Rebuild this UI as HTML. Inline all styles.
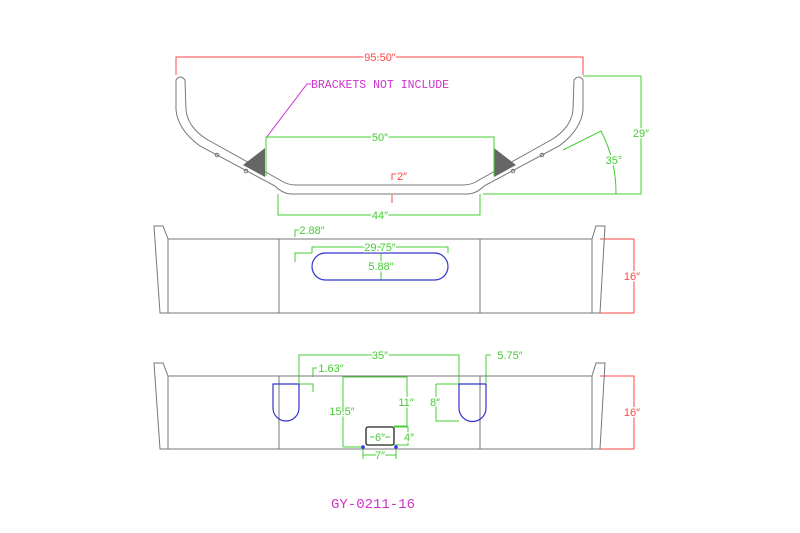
<!DOCTYPE html>
<html><head><meta charset="utf-8"><style>html,body{margin:0;padding:0;background:#fff}svg{display:block}text{font-family:"Liberation Sans",sans-serif;font-size:11px}.bg{stroke:#fff;stroke-width:3px;paint-order:stroke}.mono{font-family:"Liberation Mono",monospace}</style></head><body>
<svg width="800" height="533" viewBox="0 0 800 533" xmlns="http://www.w3.org/2000/svg">
<g fill="none" stroke="#777" stroke-width="1">
<path d="M176,80 Q180,74 185,80 L186,110 Q188,128 208,140 L280,180 Q287,185 296,185 L463,185 Q472,185 479,180 L551,140 Q571,128 573,110 L574,80 Q579,74 583,80 L583,110 Q581,130 559,146 L484,186 Q476,194 467,194 L292,194 Q283,194 275,186 L200,146 Q178,130 176,110 Z"/>
<circle cx="217" cy="155" r="1.8"/><circle cx="246" cy="171" r="1.8"/>
<circle cx="542" cy="155" r="1.8"/><circle cx="513" cy="171" r="1.8"/>
</g>
<polygon points="265,148 243,165 265,177" fill="#666"/>
<polygon points="494,148 516,165 494,177" fill="#666"/>
<g stroke="#f44" fill="none">
<path d="M176,75 V57 H583 V75"/>
<path d="M392,180 V174 H396 M392,195 V203"/>
<path d="M600,239 H634 V313 H600 M600,376 H634 V449 H600"/>
</g>
<g stroke="#c3c" fill="none"><path d="M266,138 L307,84 H311"/></g>
<g stroke="#4c3" fill="none">
<path d="M266,176 V137 H494 V176"/>
<path d="M278,194 V215 H480 V194"/>
<path d="M583,76 H641 V194 H483"/>
<path d="M563,150 L601,131 A134,134 0 0 1 616,194"/>
<path d="M295,237 V230 H300 M295,262 V253 H312 M312,253 V247 H448 V253 M381,253 V280"/>
<path d="M299,384 V355 H459 V384 M486,384 V355 H491 M313,377 V368 H317 M313,392 V384 H299"/>
<path d="M343,447 H363 M343,447 V377 H407 V426 H394 M436,384 V421 H459 M436,384 H459 M394,427 H408 V445 H394 M363,449 V459 M396,449 V459 M363,455 H396 M370,437 H390"/>
</g>
<g fill="none" stroke="#777">
<path d="M154,226 H163 L168,239 V313 H160 Z M168,239 H592 V313 H168 M279,239 V313 M480,239 V313 M592,239 L596,226 H605 L600,313 H592"/>
<path d="M154,363 H163 L168,376 V449 H160 Z M168,376 H592 V449 H168 M279,376 V449 M480,376 V449 M592,376 L596,363 H605 L600,449 H592"/>
</g>
<rect x="366" y="427" width="28" height="18" rx="2" fill="none" stroke="#222" stroke-width="1.3"/>
<g fill="none" stroke="#33c" stroke-width="1.2">
<rect x="312" y="253" width="136" height="27" rx="13.5"/>
<path d="M299,384 H273 V408 A13,13 0 0 0 299,408 V384"/>
<path d="M486,384 H459 V408 A13.5,13.5 0 0 0 486,408 V384"/>
</g>
<circle cx="363" cy="447" r="1.8" fill="#33f"/><circle cx="396" cy="447" r="1.8" fill="#33f"/>
<g fill="#f44" text-anchor="middle" style="font-size:12px">
<text class="bg" x="380" y="61">95.50″</text>
<text class="bg" x="402" y="180">2″</text>
<text class="bg" x="632" y="280">16″</text><text class="bg" x="632" y="416">16″</text>
</g>
<g fill="#c3c"><text class="mono" x="311" y="88" style="font-size:11.5px">BRACKETS NOT INCLUDE</text>
<text class="mono" x="373" y="508" text-anchor="middle" style="font-size:14px">GY-0211-16</text></g>
<g fill="#4c3" text-anchor="middle" style="font-size:12px">
<text class="bg" x="380" y="141">50″</text>
<text class="bg" x="380" y="219">44″</text>
<text class="bg" x="641" y="137">29″</text>
<text class="bg" x="614" y="164">35°</text>
<text class="bg" x="312" y="234">2.88″</text>
<text class="bg" x="380" y="251">29.75″</text>
<text class="bg" x="381" y="270">5.88″</text>
<text class="bg" x="380" y="359">35″</text>
<text class="bg" x="510" y="359">5.75″</text>
<text class="bg" x="331" y="372">1.63″</text>
<text class="bg" x="342" y="415">15.5″</text>
<text class="bg" x="406" y="406">11″</text>
<text class="bg" x="435" y="406">8″</text>
<text class="bg" x="380" y="441">6″</text>
<text class="bg" x="409" y="441">4″</text>
<text class="bg" x="380" y="459">7″</text>
</g>
</svg>
</body></html>
